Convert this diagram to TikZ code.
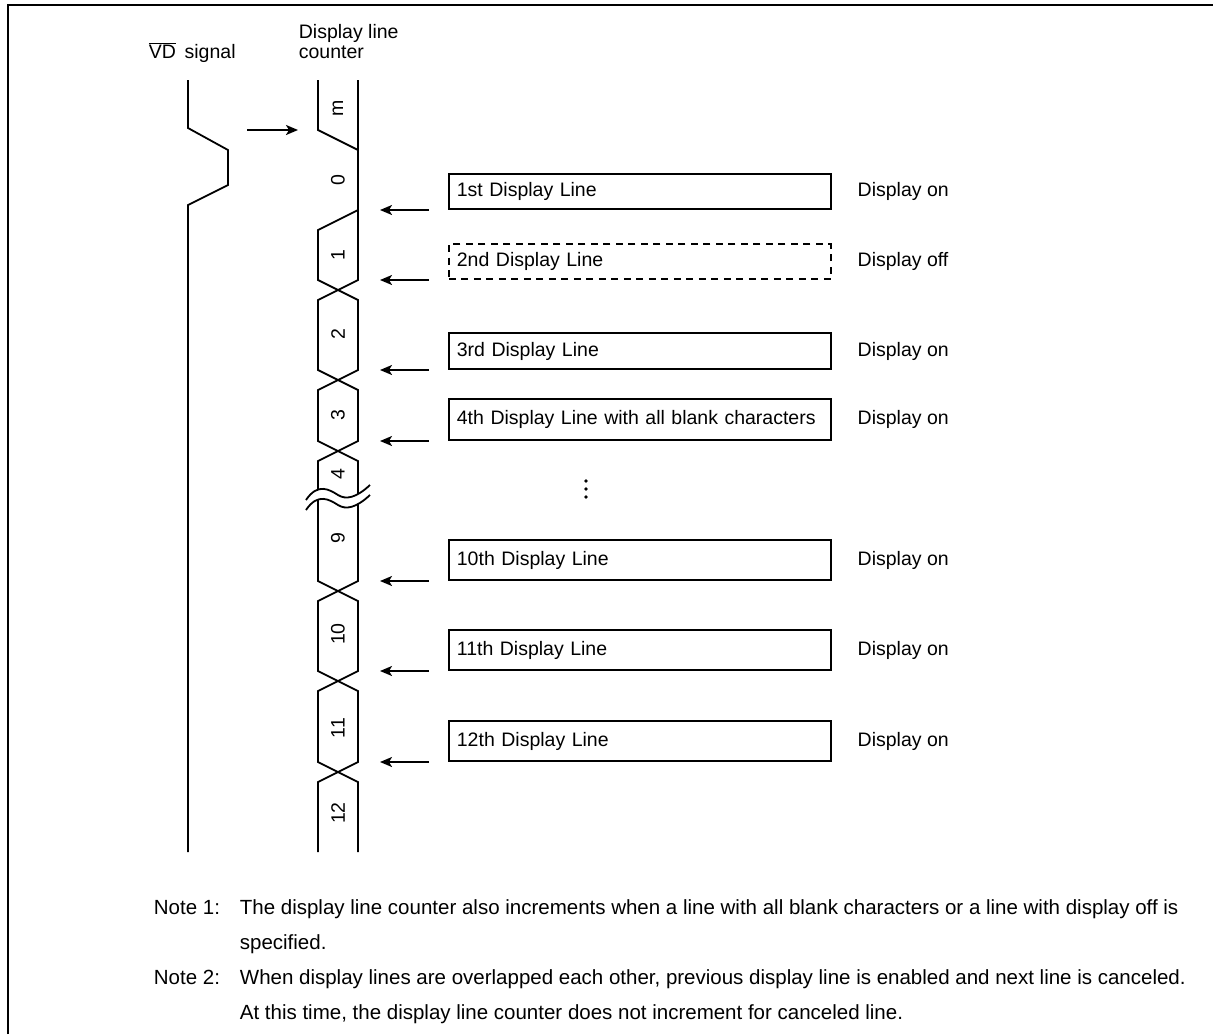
\documentclass[tikz,border=0pt]{standalone}
\usepackage{fontspec}
\setmainfont{Liberation Sans}
\usetikzlibrary{positioning,arrows.meta}

\begin{document}
\begin{tikzpicture}[x=1pt, y=-1pt, line width=1.8pt,
  every node/.style={font=\fontsize{19.5}{20}\selectfont, inner sep=0pt},
  linebox/.style={draw, anchor=south west, inner xsep=8pt, text width=366pt, minimum height=35pt},
  offbox/.style={linebox, dash pattern=on 7pt off 5.5pt},
  pointer/.style={-{Stealth[length=12pt, width=10pt, inset=3pt]}},
  count/.style={rotate=90},
  note/.style={anchor=base west, align=left, font=\fontsize{20.5}{35}\selectfont}]
  \useasboundingbox (0,0) rectangle (1213,1034);

  % Frame
  \draw[line width=2.5pt] (8,1034) -- (8,5) -- (1213,5);

  % Titles
  \node[anchor=base west] (vd) at (148,58) {$\overline{\hbox{VD}}$\ \,signal};
  \node[anchor=base west, align=left] (dlc) at (298,58) {Display line\\counter};

  % VD signal
  \draw (188,80) -- (188,128) -- (228,150) -- (228,185) -- (188,205) -- (188,852);

  % Display line counter
  \draw (318,80) -- (318,130) -- (358,150);
  \draw (358,80) -- (358,280) -- (318,300) -- (318,370) -- (358,390) -- (358,441)
    -- (318,461) -- (318,581) -- (358,601) -- (358,671) -- (318,691) -- (318,762)
    -- (358,782) -- (358,852);
  \draw (358,210) -- (318,230) -- (318,280) -- (358,300) -- (358,370) -- (318,390)
    -- (318,441) -- (358,461) -- (358,581) -- (318,601) -- (318,671) -- (358,691)
    -- (358,762) -- (318,782) -- (318,852);

  % Break
  \fill[white] (306,500) .. controls (318,482) and (330,490) .. (338,495)
    .. controls (346,500) and (356,498) .. (370,485) -- (370,495)
    .. controls (356,508) and (346,510) .. (338,505)
    .. controls (330,500) and (318,492) .. (306,510) -- cycle;
  \draw (306,500) .. controls (318,482) and (330,490) .. (338,495)
    .. controls (346,500) and (356,498) .. (370,485);
  \draw (306,510) .. controls (318,492) and (330,500) .. (338,505)
    .. controls (346,510) and (356,508) .. (370,495);

  % Counter values
  \node[count] (cm) at (338,108) {m};
  \node[count] (c0) at (338,180) {0};
  \node[count] (c1) at (338,255) {1};
  \node[count] (c2) at (338,334) {2};
  \node[count] (c3) at (338,415) {3};
  \node[count] (c4) at (338,474) {4};
  \node[count] (c9) at (338,538) {9};
  \node[count] (c10) at (338,634) {10};
  \node[count] (c11) at (338,728) {11};
  \node[count] (c12) at (338,813) {12};

  % Transition points
  \coordinate (m0) at (318,130);
  \coordinate (t1) at (358,210);
  \coordinate (t2) at (358,280);
  \coordinate (t3) at (358,370);
  \coordinate (t4) at (358,441);
  \coordinate (t10) at (358,581);
  \coordinate (t11) at (358,671);
  \coordinate (t12) at (358,762);

  \draw[pointer] ([xshift=-71pt]m0) -- ([xshift=-20pt]m0);

  % Display lines
  \node[linebox] (l1) at ([xshift=90pt]t1) {1st Display Line};
  \node[offbox] (l2) at ([xshift=90pt]t2) {2nd Display Line};
  \node[linebox, minimum height=36pt] (l3) at ([xshift=90pt]t3) {3rd Display Line};
  \node[linebox, minimum height=41pt] (l4) at ([xshift=90pt]t4) {4th Display Line with all blank characters};
  \node[linebox, minimum height=40pt] (l10) at ([xshift=90pt]t10) {10th Display Line};
  \node[linebox, minimum height=40pt] (l11) at ([xshift=90pt]t11) {11th Display Line};
  \node[linebox, minimum height=40pt] (l12) at ([xshift=90pt]t12) {12th Display Line};

  % Omitted lines
  \fill (586,481) circle (1.9) (586,489) circle (1.9) (586,497) circle (1.9);

  \draw[pointer] ([xshift=71pt]t1) -- ([xshift=22pt]t1);
  \draw[pointer] ([xshift=71pt]t2) -- ([xshift=22pt]t2);
  \draw[pointer] ([xshift=71pt]t3) -- ([xshift=22pt]t3);
  \draw[pointer] ([xshift=71pt]t4) -- ([xshift=22pt]t4);
  \draw[pointer] ([xshift=71pt]t10) -- ([xshift=22pt]t10);
  \draw[pointer] ([xshift=71pt]t11) -- ([xshift=22pt]t11);
  \draw[pointer] ([xshift=71pt]t12) -- ([xshift=22pt]t12);

  % Status
  \node[right=25pt of l1] (s1) {Display on};
  \node[right=25pt of l2] (s2) {Display off};
  \node[right=25pt of l3] (s3) {Display on};
  \node[right=25pt of l4] (s4) {Display on};
  \node[right=25pt of l10] (s10) {Display on};
  \node[right=25pt of l11] (s11) {Display on};
  \node[right=25pt of l12] (s12) {Display on};

  % Notes
  \node[note] (n1) at (153,914) {Note 1:};
  \node[note] (n1t) at (239,949) {The display line counter also increments when a line with all blank characters or a line with display off is\\specified.};
  \node[note] (n2) at (153,984) {Note 2:};
  \node[note] (n2t) at (239,1019) {When display lines are overlapped each other, previous display line is enabled and next line is canceled.\\At this time, the display line counter does not increment for canceled line.};
\end{tikzpicture}
\end{document}
